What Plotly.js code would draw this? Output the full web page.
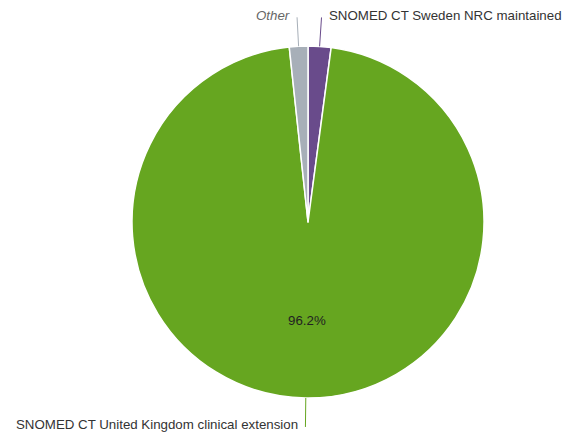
<!DOCTYPE html>
<html><head><meta charset="utf-8">
<script src="https://cdn.plot.ly/plotly-3.0.1.min.js"></script>
<style>html,body{margin:0;padding:0;background:#fff}#chart{width:563px;height:435px}</style>
</head><body><div id="chart"></div>
<script>
const labels = ["SNOMED CT Sweden NRC maintained", "SNOMED CT United Kingdom clinical extension", "Other"];
const values = [2.1, 96.2, 1.7];
const colors = ["#694b8b", "#66a620", "#a7afb8"];
const textColors = ["#333333", "#333333", "#666666"];
const italic = [false, false, true];
const showPercent = [false, true, false];

const W = 563, H = 435;
const cx = 308, cy = 222, R = 176, Rline = 205, Rtext = 0.56 * R;
const FONT = "Liberation Sans, Arial, sans-serif";
const total = values.reduce((a, b) => a + b, 0);

const shapes = [], annotations = [];
let cum = 0;
values.forEach((v, i) => {
  const mid = (cum + v / 2) / total * 2 * Math.PI;
  cum += v;
  const s = Math.sin(mid), c = Math.cos(mid);
  const x0 = cx + R * s, y0 = cy - R * c;
  const x1 = cx + Rline * s, y1 = cy - Rline * c;
  shapes.push({type: "line", xref: "paper", yref: "paper",
    x0: x0 / W, y0: 1 - y0 / H, x1: x1 / W, y1: 1 - y1 / H,
    line: {color: colors[i], width: 1}});
  const right = s >= 0;
  annotations.push({xref: "paper", yref: "paper",
    x: (x1 + (right ? 5 : -5)) / W, y: 1 - (y1 - 2) / H,
    xanchor: right ? "left" : "right", yanchor: "middle", showarrow: false,
    text: italic[i] ? "<i>" + labels[i] + "</i>" : labels[i],
    font: {family: FONT, size: 13.3, color: textColors[i]}});
  if (showPercent[i]) {
    annotations.push({xref: "paper", yref: "paper",
      x: (cx + Rtext * s) / W, y: 1 - (cy - Rtext * c) / H,
      xanchor: "center", yanchor: "middle", showarrow: false,
      text: (v / total * 100).toFixed(1) + "%",
      font: {family: FONT, size: 13.3, color: "#222222"}});
  }
});

const data = [{
  type: "pie", labels: labels, values: values, sort: false, direction: "clockwise", rotation: 0,
  marker: {colors: colors, line: {color: "#ffffff", width: 1.5}},
  textinfo: "none",
  hoverinfo: "label+percent",
  domain: {x: [(cx - R) / W, (cx + R) / W], y: [1 - (cy + R) / H, 1 - (cy - R) / H]}
}];
const layout = {width: W, height: H, margin: {l: 0, r: 0, t: 0, b: 0}, showlegend: false,
  paper_bgcolor: "#ffffff", shapes: shapes, annotations: annotations};
Plotly.newPlot("chart", data, layout, {displayModeBar: false, staticPlot: true});
</script></body></html>
